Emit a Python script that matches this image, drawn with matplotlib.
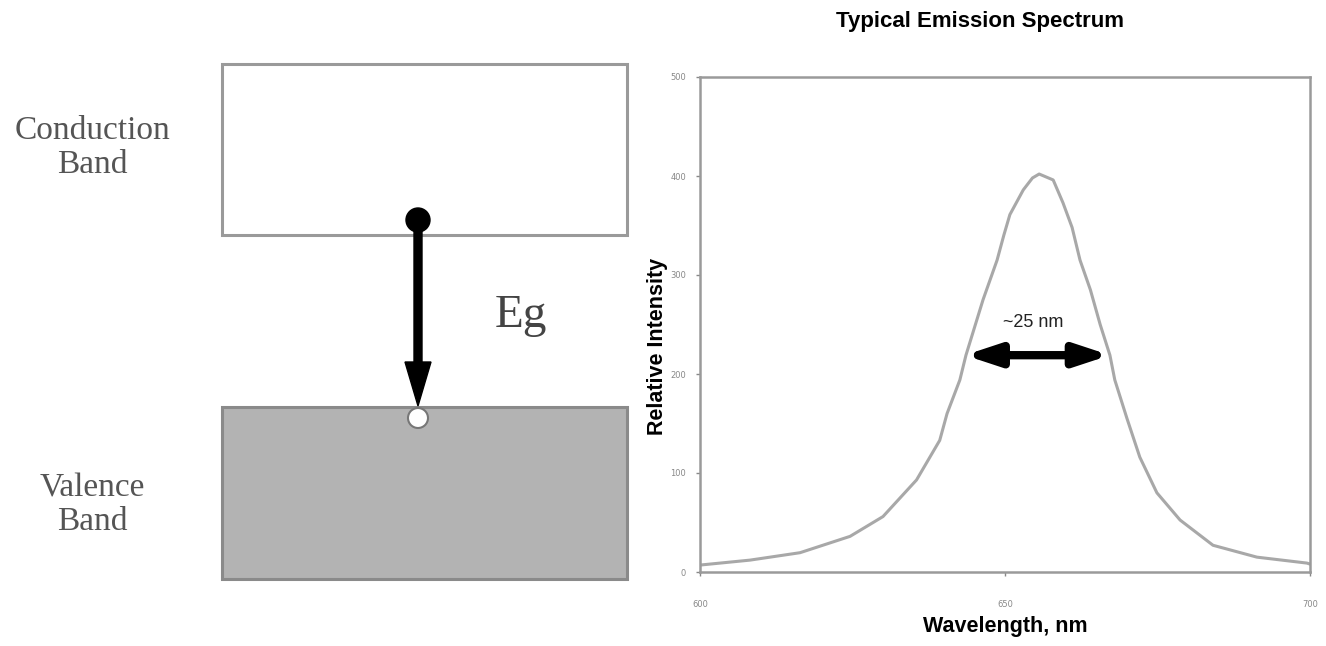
import matplotlib
matplotlib.use('Agg')
import matplotlib.pyplot as plt
from matplotlib.patches import Rectangle, Circle

# emission spectrum
wavelength = [600.0, 608.2, 616.4, 624.6, 630.0, 635.5, 639.3, 640.5, 642.6,
              643.6, 646.4, 648.7, 649.8, 650.8, 653.0, 654.5, 655.6, 657.9,
              659.5, 661.0, 662.3, 664.0, 665.6, 667.2, 668.0, 670.0, 672.1,
              674.9, 678.7, 684.1, 691.3, 699.5, 700.0]
intensity = [7, 12, 19.5, 36, 56, 93, 133, 160, 194,
             219, 275, 315, 340, 361, 386, 398, 402, 396,
             373, 348, 315, 285, 250, 219, 194, 155, 116,
             80, 52.5, 27, 15, 9, 8]
fwhm_ends = [643.4, 667.2]
fwhm_level = 219
x_ticks = [600, 650, 700]
y_ticks = [0, 100, 200, 300, 400, 500]

SANS = ['Liberation Sans', 'DejaVu Sans']
SERIF = ['Liberation Serif', 'DejaVu Serif']


def main():
  fig = plt.figure(figsize=(13.26, 6.46), dpi=100)

  # band diagram, drawn in pixel units of the left half
  ax0 = fig.add_axes([0, 0, 663 / 1326, 1])
  ax0.set_xlim(0, 663)
  ax0.set_ylim(646, 0)
  ax0.axis('off')
  ax0.add_patch(Rectangle((222, 64), 405, 171, facecolor='white',
                          edgecolor='#9a9a9a', lw=2.2))
  ax0.add_patch(Rectangle((222, 407), 405, 172, facecolor='#b3b3b3',
                          edgecolor='#8a8a8a', lw=2.2))
  ax0.arrow(418, 222, 0, 184, width=8, head_width=26, head_length=44,
            length_includes_head=True, color='black', zorder=3)
  ax0.add_patch(Circle((418, 220), 12, facecolor='black', edgecolor='black',
                       zorder=4))
  ax0.add_patch(Circle((418, 418), 10, facecolor='white', edgecolor='#777777',
                       lw=1.5, zorder=4))
  ax0.text(92, 148, 'Conduction\nBand', ha='center', va='center',
           fontsize=24, family=SERIF, color='#555555', linespacing=1.15)
  ax0.text(92, 505, 'Valence\nBand', ha='center', va='center',
           fontsize=24, family=SERIF, color='#555555', linespacing=1.15)
  ax0.text(521, 316, 'Eg', ha='center', va='center', fontsize=34,
           family=SERIF, color='#444444')

  # emission spectrum
  ax = fig.add_axes([700 / 1326, 74 / 646, 610 / 1326, 495 / 646])
  ax.plot(wavelength, intensity, color='#a8a8a8', lw=2.2)
  ax.annotate('', xy=(fwhm_ends[0], fwhm_level),
              xytext=(fwhm_ends[1], fwhm_level),
              arrowprops=dict(arrowstyle='<|-|>,head_length=1.0,head_width=0.33',
                              color='black', lw=6,
                              mutation_scale=20, shrinkA=0, shrinkB=0))
  ax.text(654.6, 252, '~25 nm', ha='center', va='center', fontsize=13,
          family=SANS, color='#222222')
  ax.set_xlim(600, 700)
  ax.set_ylim(0, 500)
  ax.set_xticks(x_ticks)
  ax.set_yticks(y_ticks)
  ax.tick_params(labelsize=6, colors='#888888', length=3, width=1)
  ax.tick_params(axis='x', pad=17)
  ax.tick_params(axis='y', pad=7)
  for s in ax.spines.values():
    s.set_color('#9a9a9a')
    s.set_linewidth(1.8)
  ax.set_xlabel('Wavelength, nm', fontsize=15.5, fontweight='bold',
                family=SANS, labelpad=5)
  ax.set_ylabel('Relative Intensity', fontsize=15.5, fontweight='bold',
                family=SANS)
  ax.yaxis.set_label_coords(-0.052, 0.455)
  fig.text(980 / 1326, 1 - 22 / 646, 'Typical Emission Spectrum',
           ha='center', va='center', fontsize=16, fontweight='bold',
           family=SANS)

  fig.savefig('out.png', dpi=100)


if __name__ == "__main__":
  main()
